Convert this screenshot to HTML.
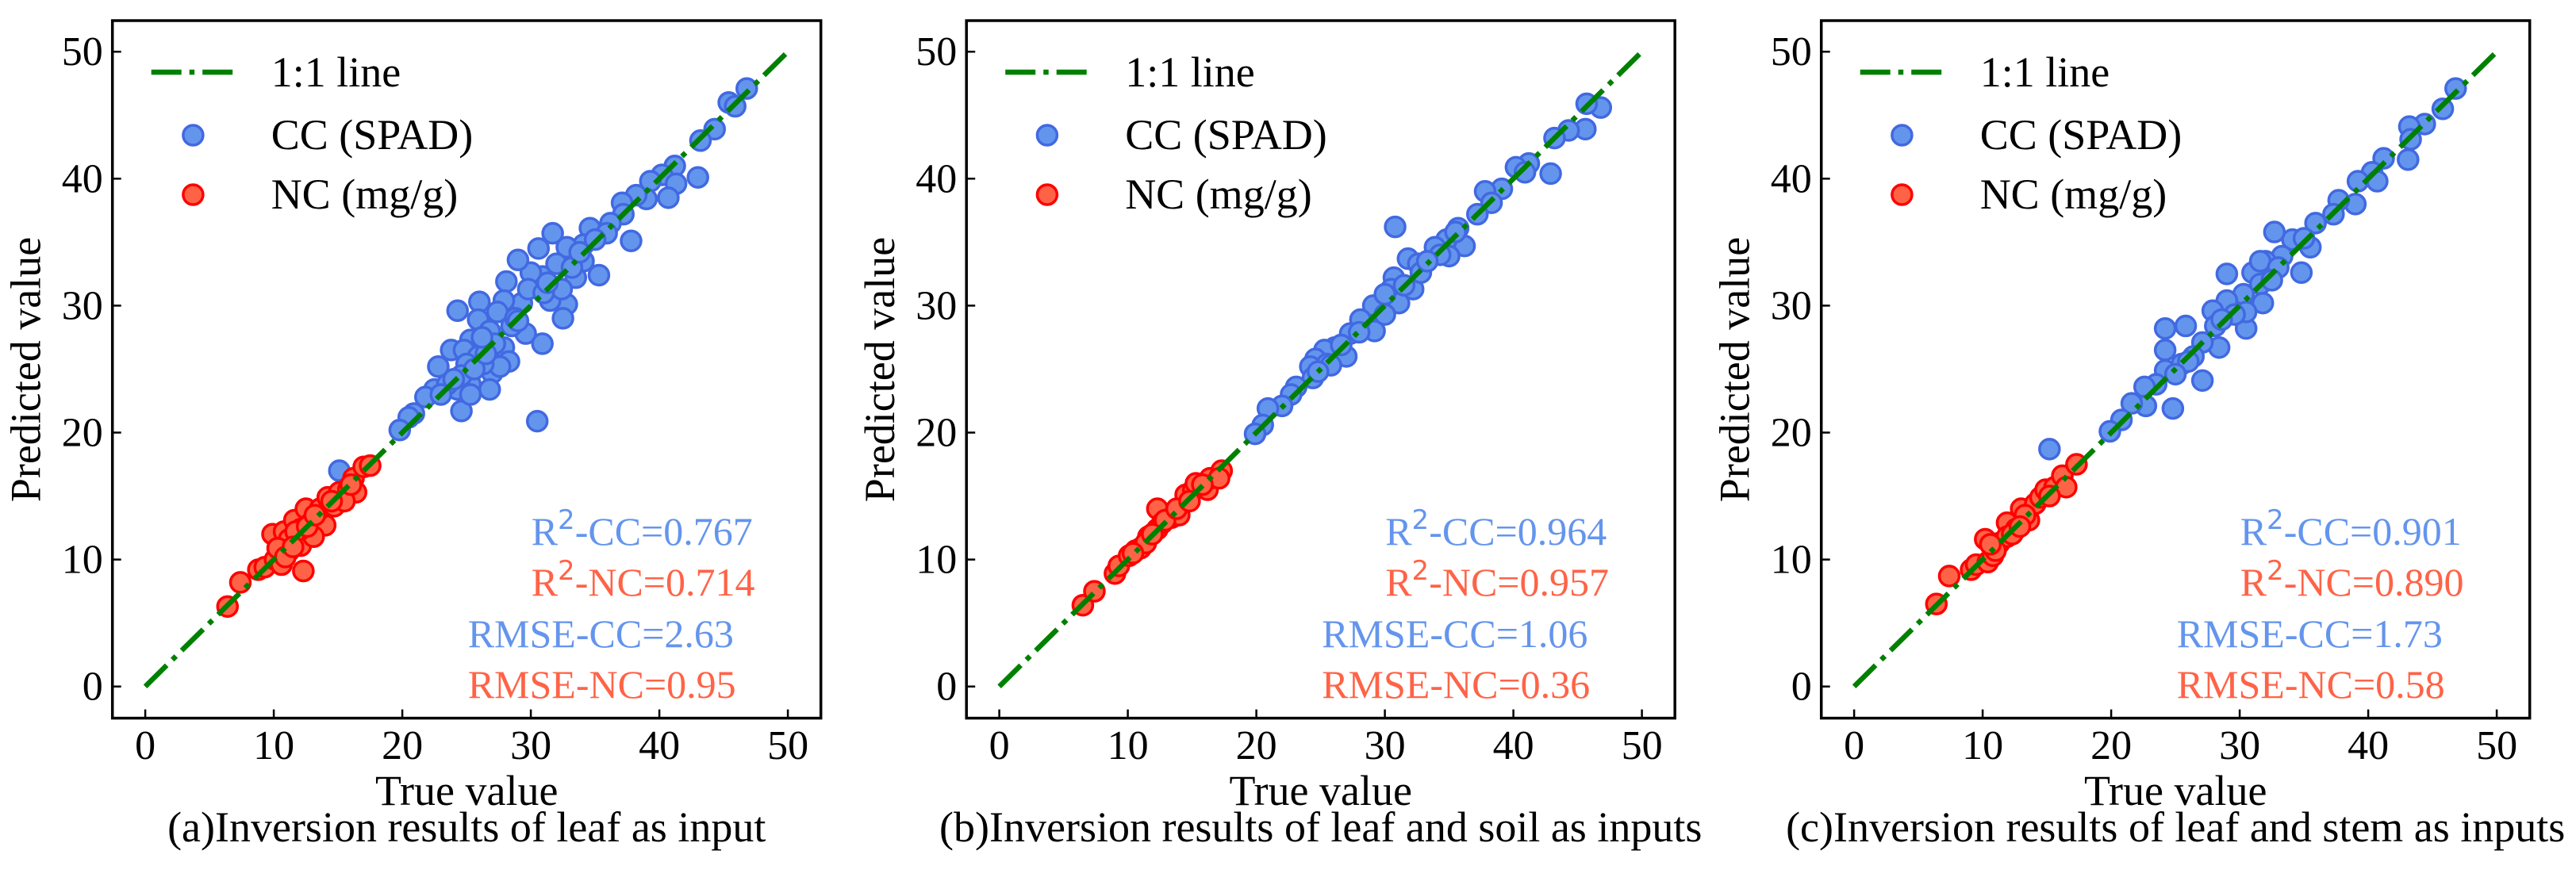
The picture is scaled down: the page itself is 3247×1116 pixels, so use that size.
<!DOCTYPE html>
<html><head><meta charset="utf-8"><style>
html,body{margin:0;padding:0;background:#fff;}
svg{display:block;}
text{font-family:"Liberation Serif","DejaVu Serif",serif;}
</style></head><body>
<svg id="fig" width="3247" height="1116" viewBox="0 0 3247 1116" xmlns="http://www.w3.org/2000/svg" font-family="Liberation Serif, DejaVu Serif, serif"></svg>
<script>
// ---- data ----
const tickValues = [0, 10, 20, 30, 40, 50];
const panelCaptions = ["(a)Inversion results of leaf as input", "(b)Inversion results of leaf and soil as inputs", "(c)Inversion results of leaf and stem as inputs"];
const statR2CC = ["0.767", "0.964", "0.901"];
const statR2NC = ["0.714", "0.957", "0.890"];
const statRmseCC = ["2.63", "1.06", "1.73"];
const statRmseNC = ["0.95", "0.36", "0.58"];

const ccA = [[46.8,47.1],[45.4,46.0],[45.9,45.7],[44.3,43.9],[43.2,43.0],[43.0,40.1],[41.2,41.0],[40.2,40.3],[41.3,39.6],[40.7,38.5],[39.3,39.8],[39.0,38.4],[38.2,38.7],[37.1,38.1],[37.8,35.1],[37.2,37.2],[36.2,36.5],[34.6,36.1],[35.9,35.7],[35.3,32.4],[34.1,34.8],[32.8,34.6],[31.7,35.7],[34.1,33.5],[33.5,32.2],[32.8,30.1],[32.5,29.0],[30.9,32.3],[30.6,34.5],[32.0,33.3],[30.0,32.6],[29.0,33.6],[29.3,30.2],[29.6,27.8],[30.9,27.0],[30.5,20.9],[28.1,31.9],[27.9,30.4],[27.4,29.5],[28.5,28.4],[26.0,30.3],[24.3,29.6],[25.9,28.9],[27.9,26.7],[28.3,25.6],[27.0,24.7],[27.6,25.2],[25.3,27.3],[23.8,26.5],[24.8,26.5],[25.9,26.0],[25.0,25.4],[26.3,25.4],[22.8,25.2],[25.3,23.8],[24.3,23.4],[24.6,21.7],[25.3,23.0],[22.5,23.4],[23.5,23.8],[21.8,22.8],[20.9,21.5],[20.5,21.2],[19.8,20.2],[15.1,17.0],[26.8,28.0],[29.8,31.3],[31.5,30.4],[32.4,31.3],[26.8,23.4],[33.2,33.0],[31.0,31.0],[27.2,27.0],[24.6,24.5],[25.6,25.0],[26.5,26.2],[28.8,29.0],[31.3,31.8],[33.8,34.2],[35.0,35.2],[23.0,23.0],[24.0,24.2],[26.2,27.5],[29.0,28.8]];
const ncA = [[6.4,6.3],[7.4,8.2],[8.8,9.2],[9.3,9.4],[10.1,10.0],[9.9,12.0],[10.8,12.2],[10.6,9.6],[11.2,10.7],[12.3,9.1],[11.6,13.1],[12.5,14.0],[12.7,11.8],[12.1,11.1],[12.9,12.9],[13.6,13.1],[14.0,12.7],[13.6,14.0],[14.2,14.9],[14.7,14.2],[15.1,15.3],[15.8,15.5],[16.4,15.3],[16.2,16.4],[17.0,17.3],[17.5,17.4],[15.5,14.6],[11.2,11.6],[10.3,10.9],[13.1,11.8],[12.1,12.4],[11.7,12.2],[10.9,10.2],[12.6,12.6],[14.5,14.6],[16.0,15.9],[13.2,13.5],[11.5,11.0]];
const ccB = [[46.8,45.6],[45.7,45.9],[45.6,43.9],[44.3,43.8],[43.2,43.2],[42.9,40.4],[41.2,41.2],[40.2,40.9],[40.9,40.5],[39.1,39.2],[37.8,39.0],[38.3,38.1],[37.2,37.2],[35.7,36.1],[36.2,34.7],[34.8,35.2],[33.9,34.6],[35.0,33.9],[30.8,36.2],[31.8,33.7],[32.6,33.3],[30.7,32.2],[32.2,31.3],[30.5,31.3],[31.1,30.2],[29.1,30.0],[29.2,28.0],[30.0,29.3],[28.1,28.9],[27.3,27.8],[26.1,26.7],[25.3,26.5],[24.6,25.8],[24.2,25.2],[25.5,25.4],[24.4,24.3],[27.0,26.0],[23.1,23.6],[22.7,23.0],[22.0,22.1],[20.9,21.9],[20.5,20.6],[19.9,19.9],[32.8,32.6],[30.0,30.9],[34.3,34.0],[26.6,26.9],[28.0,27.9],[25.8,25.3],[24.8,24.8],[31.5,31.6],[33.3,33.5],[35.5,35.8]];
const ncB = [[6.5,6.4],[7.4,7.5],[9.0,8.9],[9.3,9.5],[10.1,10.3],[10.6,10.7],[11.0,10.9],[11.6,11.8],[12.3,12.4],[12.3,14.0],[12.7,12.9],[13.4,13.3],[14.0,13.5],[14.5,15.1],[15.1,15.5],[16.2,15.5],[16.4,16.4],[17.3,17.0],[17.1,16.4],[11.4,11.3],[12.9,13.1],[15.3,16.0],[10.4,10.5],[11.9,12.0],[13.8,14.0],[14.8,14.6],[15.8,15.9]];
const ccC = [[46.8,47.1],[45.8,45.5],[44.4,44.3],[43.2,44.1],[43.3,43.1],[43.1,41.5],[41.2,41.6],[40.3,40.5],[40.7,39.8],[39.2,39.8],[39.0,38.0],[37.7,38.3],[37.3,37.2],[35.9,36.5],[35.5,34.6],[34.1,35.2],[32.7,35.8],[34.8,32.6],[33.3,33.9],[32.0,33.5],[31.0,32.6],[29.0,32.5],[31.6,31.7],[31.8,30.2],[30.3,30.9],[30.5,28.2],[30.5,29.5],[29.0,30.4],[27.9,29.6],[28.1,28.4],[28.4,26.7],[27.1,27.1],[25.8,28.4],[24.2,28.2],[24.2,26.5],[26.4,26.0],[27.1,24.1],[25.5,25.4],[24.2,24.9],[23.5,23.8],[22.6,23.6],[22.7,22.1],[24.8,21.9],[21.6,22.3],[20.8,21.0],[19.9,20.1],[15.2,18.7],[31.6,33.5],[29.6,29.3],[33.0,33.0],[26.0,25.6],[25.0,24.6],[32.5,32.0],[35.0,35.3],[28.6,28.9]];
const ncC = [[6.4,6.5],[7.4,8.7],[9.1,9.2],[9.5,9.6],[10.2,11.6],[10.4,9.8],[10.8,10.3],[11.3,11.3],[11.9,12.9],[11.9,11.8],[12.6,12.4],[13.0,14.0],[13.6,13.1],[14.1,14.4],[14.5,14.9],[14.9,15.5],[15.6,15.7],[16.2,16.6],[16.5,15.7],[17.3,17.5],[11.0,10.7],[12.3,12.0],[10.6,11.2],[13.3,13.5],[15.2,15.0],[12.9,12.6]];

const ccSets = [ccA, ccB, ccC];
const ncSets = [ncA, ncB, ncC];

// ---- drawing ----
const NS = "http://www.w3.org/2000/svg";
const svg = document.getElementById("fig");
const FONT = "Liberation Serif, DejaVu Serif, serif";
function mk(tag, attrs, parent) {
  const e = document.createElementNS(NS, tag);
  for (const k in attrs) e.setAttribute(k, attrs[k]);
  if (tag === "text") e.setAttribute("font-family", FONT);
  (parent || svg).appendChild(e);
  return e;
}
const frameLefts = [141.7, 1218.2, 2295.7];
const frameW = 893, frameTop = 26, frameBottom = 905.6;
const letters = ["a", "b", "c"];
const R = 12.5, LW = 6.5, DASH = "38 10 6.5 10";

frameLefts.forEach((fl, p) => {
  const X = v => fl + 41.4 + v * 16.2;
  const Y = v => 865.7 - v * 16.01;
  const g = mk("g", {});
  
  

  tickValues.forEach(t => {
    const tx = mk("line", {x1: X(t), x2: X(t), y1: frameBottom, y2: frameBottom - 11, stroke: "#000", "stroke-width": 2.5}, g);
    
    
    const ty = mk("line", {x1: fl, x2: fl + 11, y1: Y(t), y2: Y(t), stroke: "#000", "stroke-width": 2.5}, g);
    
    
    const xl = mk("text", {x: X(t), y: 957, "font-size": 52, "text-anchor": "middle"}, g);
    xl.textContent = t;
    
    
    const yl = mk("text", {x: fl - 12, y: Y(t) + 17, "font-size": 52, "text-anchor": "end"}, g);
    yl.textContent = t;
    
    
  });

  ccSets[p].forEach(d => {
    const c = mk("circle", {cx: X(d[0]), cy: Y(d[1]), r: R, fill: "#6495ED", stroke: "#4169E1", "stroke-width": 3.5}, g);
    
    
  });
  ncSets[p].forEach(d => {
    const c = mk("circle", {cx: X(d[0]), cy: Y(d[1]), r: R, fill: "#FF6347", stroke: "#FF0000", "stroke-width": 3.5}, g);
    
    
  });

  const ln = mk("line", {x1: X(0), y1: Y(0), x2: X(50), y2: Y(50), stroke: "#008000", "stroke-width": LW, "stroke-dasharray": DASH}, g);
  
  

  const fr = mk("rect", {x: fl, y: frameTop, width: frameW, height: frameBottom - frameTop, fill: "none", stroke: "#000", "stroke-width": 3.5}, g);
  
  

  const lg = mk("g", {}, g);
  
  
  const l1 = mk("line", {x1: fl + 49, x2: fl + 153, y1: 91, y2: 91, stroke: "#008000", "stroke-width": LW, "stroke-dasharray": DASH}, lg);
  
  
  const c1 = mk("circle", {cx: fl + 101.7, cy: 170.5, r: R, fill: "#6495ED", stroke: "#4169E1", "stroke-width": 3.5}, lg);
  
  
  const c2 = mk("circle", {cx: fl + 101.7, cy: 245.5, r: R, fill: "#FF6347", stroke: "#FF0000", "stroke-width": 3.5}, lg);
  
  
  [["1:1 line", 109], ["CC (SPAD)", 188], ["NC (mg/g)", 263]].forEach(e => {
    const t = mk("text", {x: fl + 200, y: e[1], "font-size": 54}, lg);
    t.textContent = e[0];
    
    
  });

  const s1 = mk("text", {x: fl + 528, y: 687, "font-size": 50, fill: "#6495ED"}, g);
  s1.innerHTML = 'R<tspan font-family="DejaVu Sans, sans-serif" font-size="34" dy="-20">2</tspan><tspan dy="20">-CC=' + statR2CC[p] + '</tspan>';
  
  
  const s2 = mk("text", {x: fl + 528, y: 751, "font-size": 50, fill: "#FF6347"}, g);
  s2.innerHTML = 'R<tspan font-family="DejaVu Sans, sans-serif" font-size="34" dy="-20">2</tspan><tspan dy="20">-NC=' + statR2NC[p] + '</tspan>';
  
  
  const s3 = mk("text", {x: fl + 448, y: 816, "font-size": 50, fill: "#6495ED"}, g);
  s3.textContent = "RMSE-CC=" + statRmseCC[p];
  
  
  const s4 = mk("text", {x: fl + 448, y: 880, "font-size": 50, fill: "#FF6347"}, g);
  s4.textContent = "RMSE-NC=" + statRmseNC[p];
  
  

  const xt = mk("text", {x: fl + frameW / 2, y: 1015, "font-size": 54, "text-anchor": "middle"}, g);
  xt.textContent = "True value";
  
  
  const yx = fl - 109;
  const yt = mk("text", {x: yx, y: 466, "font-size": 54, "text-anchor": "middle", transform: "rotate(-90 " + yx + " 466) translate(0 18)"}, g);
  yt.textContent = "Predicted value";
  
  
  const cp = mk("text", {x: fl + frameW / 2, y: 1061, "font-size": 54, "text-anchor": "middle"}, g);
  cp.textContent = panelCaptions[p];
  
  
});
</script>
</body></html>
